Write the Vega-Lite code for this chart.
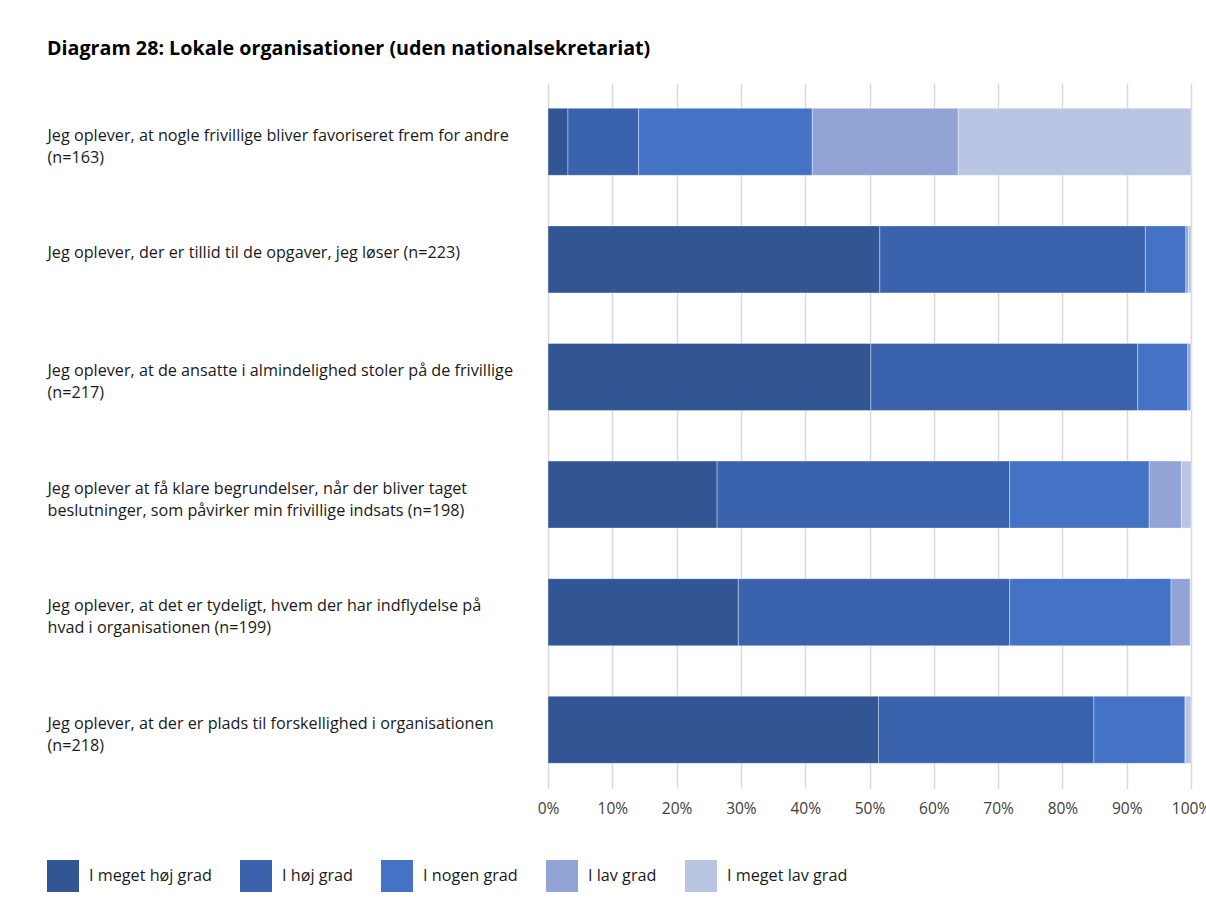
{
  "$schema": "https://vega.github.io/schema/vega-lite/v6.json",
  "autosize": "none",
  "width": 643,
  "height": 705.6,
  "padding": {"left": 548, "top": 83, "right": 15, "bottom": 131.4},
  "background": "#ffffff",
  "title": {
    "text": "Diagram 28: Lokale organisationer (uden nationalsekretariat)",
    "anchor": "start",
    "frame": "group",
    "dx": -501,
    "offset": 24,
    "font": "Open Sans",
    "fontSize": 19.7,
    "fontWeight": "bold",
    "color": "#000000"
  },
  "config": {
    "view": {"stroke": null},
    "font": "Open Sans"
  },
  "data": {
    "values": [
      {"q": "Jeg oplever, at nogle frivillige bliver favoriseret frem for andre|(n=163)", "cat": "I meget høj grad", "k": 1, "v": 3.1},
      {"q": "Jeg oplever, at nogle frivillige bliver favoriseret frem for andre|(n=163)", "cat": "I høj grad", "k": 2, "v": 11.0},
      {"q": "Jeg oplever, at nogle frivillige bliver favoriseret frem for andre|(n=163)", "cat": "I nogen grad", "k": 3, "v": 27.0},
      {"q": "Jeg oplever, at nogle frivillige bliver favoriseret frem for andre|(n=163)", "cat": "I lav grad", "k": 4, "v": 22.7},
      {"q": "Jeg oplever, at nogle frivillige bliver favoriseret frem for andre|(n=163)", "cat": "I meget lav grad", "k": 5, "v": 36.2},

      {"q": "Jeg oplever, der er tillid til de opgaver, jeg løser (n=223)", "cat": "I meget høj grad", "k": 1, "v": 51.6},
      {"q": "Jeg oplever, der er tillid til de opgaver, jeg løser (n=223)", "cat": "I høj grad", "k": 2, "v": 41.3},
      {"q": "Jeg oplever, der er tillid til de opgaver, jeg løser (n=223)", "cat": "I nogen grad", "k": 3, "v": 6.3},
      {"q": "Jeg oplever, der er tillid til de opgaver, jeg løser (n=223)", "cat": "I lav grad", "k": 4, "v": 0.4},
      {"q": "Jeg oplever, der er tillid til de opgaver, jeg løser (n=223)", "cat": "I meget lav grad", "k": 5, "v": 0.4},

      {"q": "Jeg oplever, at de ansatte i almindelighed stoler på de frivillige|(n=217)", "cat": "I meget høj grad", "k": 1, "v": 50.2},
      {"q": "Jeg oplever, at de ansatte i almindelighed stoler på de frivillige|(n=217)", "cat": "I høj grad", "k": 2, "v": 41.5},
      {"q": "Jeg oplever, at de ansatte i almindelighed stoler på de frivillige|(n=217)", "cat": "I nogen grad", "k": 3, "v": 7.8},
      {"q": "Jeg oplever, at de ansatte i almindelighed stoler på de frivillige|(n=217)", "cat": "I lav grad", "k": 4, "v": 0.5},
      {"q": "Jeg oplever, at de ansatte i almindelighed stoler på de frivillige|(n=217)", "cat": "I meget lav grad", "k": 5, "v": 0},

      {"q": "Jeg oplever at få klare begrundelser, når der bliver taget|beslutninger, som påvirker min frivillige indsats (n=198)", "cat": "I meget høj grad", "k": 1, "v": 26.3},
      {"q": "Jeg oplever at få klare begrundelser, når der bliver taget|beslutninger, som påvirker min frivillige indsats (n=198)", "cat": "I høj grad", "k": 2, "v": 45.5},
      {"q": "Jeg oplever at få klare begrundelser, når der bliver taget|beslutninger, som påvirker min frivillige indsats (n=198)", "cat": "I nogen grad", "k": 3, "v": 21.7},
      {"q": "Jeg oplever at få klare begrundelser, når der bliver taget|beslutninger, som påvirker min frivillige indsats (n=198)", "cat": "I lav grad", "k": 4, "v": 5.0},
      {"q": "Jeg oplever at få klare begrundelser, når der bliver taget|beslutninger, som påvirker min frivillige indsats (n=198)", "cat": "I meget lav grad", "k": 5, "v": 1.5},

      {"q": "Jeg oplever, at det er tydeligt, hvem der har indflydelse på|hvad i organisationen (n=199)", "cat": "I meget høj grad", "k": 1, "v": 29.6},
      {"q": "Jeg oplever, at det er tydeligt, hvem der har indflydelse på|hvad i organisationen (n=199)", "cat": "I høj grad", "k": 2, "v": 42.2},
      {"q": "Jeg oplever, at det er tydeligt, hvem der har indflydelse på|hvad i organisationen (n=199)", "cat": "I nogen grad", "k": 3, "v": 25.1},
      {"q": "Jeg oplever, at det er tydeligt, hvem der har indflydelse på|hvad i organisationen (n=199)", "cat": "I lav grad", "k": 4, "v": 3.0},
      {"q": "Jeg oplever, at det er tydeligt, hvem der har indflydelse på|hvad i organisationen (n=199)", "cat": "I meget lav grad", "k": 5, "v": 0},

      {"q": "Jeg oplever, at der er plads til forskellighed i organisationen|(n=218)", "cat": "I meget høj grad", "k": 1, "v": 51.4},
      {"q": "Jeg oplever, at der er plads til forskellighed i organisationen|(n=218)", "cat": "I høj grad", "k": 2, "v": 33.5},
      {"q": "Jeg oplever, at der er plads til forskellighed i organisationen|(n=218)", "cat": "I nogen grad", "k": 3, "v": 14.2},
      {"q": "Jeg oplever, at der er plads til forskellighed i organisationen|(n=218)", "cat": "I lav grad", "k": 4, "v": 0},
      {"q": "Jeg oplever, at der er plads til forskellighed i organisationen|(n=218)", "cat": "I meget lav grad", "k": 5, "v": 0.9}
    ]
  },
  "mark": {"type": "bar", "stroke": "#ffffff", "strokeOpacity": 0.35, "strokeWidth": 1},
  "encoding": {
    "y": {
      "field": "q",
      "type": "nominal",
      "sort": null,
      "scale": {"paddingInner": 0.43, "paddingOuter": 0.215},
      "axis": {
        "title": null,
        "domain": false,
        "ticks": false,
        "grid": false,
        "labelAlign": "left",
        "labelBaseline": "middle",
        "labelPadding": 501,
        "labelOffset": -6,
        "labelLimit": 700,
        "labelFont": "Open Sans",
        "labelFontSize": 16.2,
        "labelLineHeight": 22,
        "labelColor": "#1a1a1a",
        "labelExpr": "split(datum.value, '|')"
      }
    },
    "x": {
      "field": "v",
      "type": "quantitative",
      "stack": "zero",
      "scale": {"domain": [0, 100], "nice": false},
      "axis": {
        "title": null,
        "values": [0, 10, 20, 30, 40, 50, 60, 70, 80, 90, 100],
        "labelExpr": "datum.value + '%'",
        "domain": false,
        "ticks": false,
        "grid": true,
        "gridColor": "#d9d9d9",
        "gridWidth": 1.5,
        "labelPadding": 13,
        "labelFont": "Open Sans",
        "labelFontSize": 15.5,
        "labelColor": "#404040",
        "labelFlush": false
      }
    },
    "color": {
      "field": "cat",
      "type": "nominal",
      "scale": {
        "domain": ["I meget høj grad", "I høj grad", "I nogen grad", "I lav grad", "I meget lav grad"],
        "range": ["#325694", "#3b63ad", "#4472c4", "#91a4d5", "#b9c5e3"]
      },
      "legend": {
        "title": null,
        "orient": "none",
        "direction": "horizontal",
        "legendX": -501,
        "legendY": 777,
        "symbolType": "square",
        "symbolSize": 1024,
        "symbolStrokeWidth": 0,
        "symbolOpacity": 1,
        "labelFont": "Open Sans",
        "labelFontSize": 16.2,
        "labelColor": "#1a1a1a",
        "labelOffset": 10,
        "columnPadding": 28,
        "labelLimit": 300
      }
    },
    "order": {"field": "k", "type": "quantitative", "sort": "ascending"}
  }
}
